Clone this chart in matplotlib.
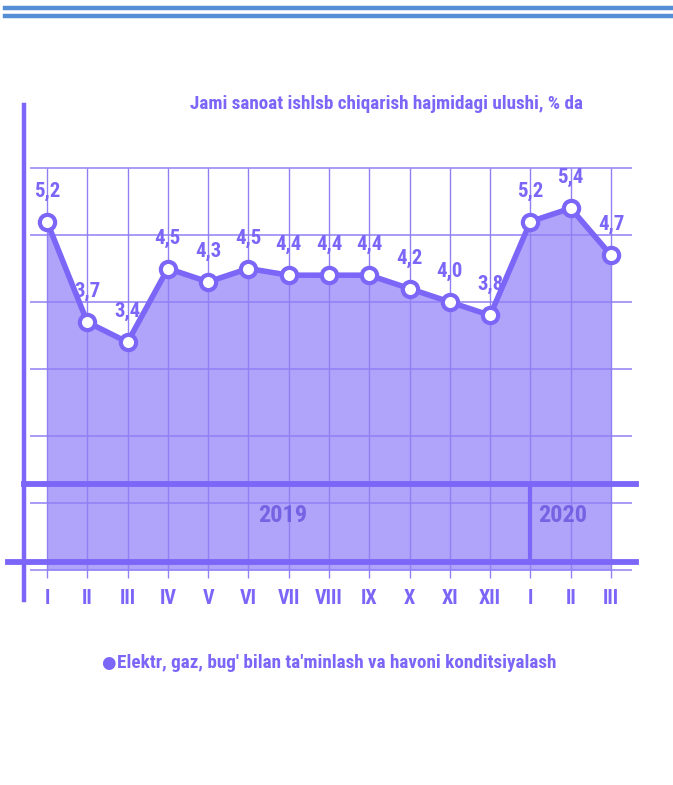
import matplotlib
matplotlib.use('Agg')
import matplotlib.pyplot as plt

months = ['I', 'II', 'III', 'IV', 'V', 'VI', 'VII', 'VIII', 'IX', 'X', 'XI', 'XII', 'I', 'II', 'III']
share = [5.2, 3.7, 3.4, 4.5, 4.3, 4.5, 4.4, 4.4, 4.4, 4.2, 4.0, 3.8, 5.2, 5.4, 4.7]
labels = ['5,2', '3,7', '3,4', '4,5', '4,3', '4,5', '4,4', '4,4', '4,4', '4,2', '4,0', '3,8', '5,2', '5,4', '4,7']
years = ['2019', '2020']
title = 'Jami sanoat ishlsb chiqarish hajmidagi ulushi, % da'
legend_text = "Elektr, gaz, bug' bilan ta'minlash va havoni konditsiyalash"

LINE = '#7b66f8'
FILL = '#b0a3fa'
GRID = '#8f80f5'
FONT = ['Roboto Condensed', 'PT Sans Narrow', 'Archivo Narrow', 'Liberation Sans', 'DejaVu Sans']

plt.rcParams['font.family'] = FONT
plt.rcParams['font.weight'] = 'bold'

W, H = 673, 785
fig = plt.figure(figsize=(W / 100, H / 100), dpi=100)

# axes: x index 0..14 -> px 47..611, y 0..6 -> px 570..168
ax = fig.add_axes([47 / W, (H - 570) / H, 564 / W, 402 / H])
ax.set_xlim(0, 14)
ax.set_ylim(0, 6)
for s in ax.spines.values():
    s.set_visible(False)
ax.set_yticks([])
x = list(range(len(share)))
ax.set_xticks(x)
ax.set_xticklabels(months, fontsize=14.5, color=LINE)
ax.tick_params(axis='x', length=0, pad=14)

# blue double rule at the top of the page
fig.add_artist(plt.Line2D([5 / W, 1], [(H - 8) / H] * 2, color='#558ed5', lw=3.2))
fig.add_artist(plt.Line2D([5 / W, 1], [(H - 16) / H] * 2, color='#558ed5', lw=3.2))

ax.fill_between(x, share, 0, color=FILL, zorder=1, lw=0)

# grid
ax.hlines([1, 2, 3, 4, 5, 6, 0], -0.42, 14.52, color=GRID, lw=1.1, zorder=2, clip_on=False)
ax.vlines(x, -0.12, 6, color=GRID, lw=1.0, zorder=2, clip_on=False)

# frame lines
ax.plot([-0.57, -0.57], [-0.45, 6.94], color=LINE, lw=3.2, clip_on=False, zorder=3)
ax.plot([-0.57, 14.62], [1.28, 1.28], color=LINE, lw=4.2, clip_on=False, zorder=3)
ax.plot([-0.97, 14.62], [0.12, 0.12], color=LINE, lw=4.2, clip_on=False, zorder=3)
ax.plot([11.98, 11.98], [0.12, 1.28], color=LINE, lw=3, clip_on=False, zorder=3)

ax.text(5.86, 0.82, years[0], ha='center', va='center', fontsize=17.5, color='#6a58e0', alpha=0.85, zorder=3)
ax.text(12.8, 0.82, years[1], ha='center', va='center', fontsize=17.5, color='#6a58e0', alpha=0.85, zorder=3)

ax.plot(x, share, color=LINE, lw=4, marker='o', ms=11, mfc='white', mec=LINE, mew=3, zorder=5, clip_on=False)
for xi, yi, lb in zip(x, share, labels):
    ax.annotate(lb, (xi, yi), xytext=(0, 22), textcoords='offset points', ha='center', va='center',
                fontsize=15, color=LINE, zorder=6)

fig.text(387 / W, (H - 104) / H, title, ha='center', va='center', fontsize=13.8, color=LINE)

fig.text(108 / W, (H - 663) / H, '\u25cf', ha='center', va='center', fontsize=12, color=LINE,
         family=['DejaVu Sans'])
fig.text(117 / W, (H - 663) / H, legend_text, ha='left', va='center', fontsize=13.8, color=LINE)

fig.savefig('out.png', dpi=100)
